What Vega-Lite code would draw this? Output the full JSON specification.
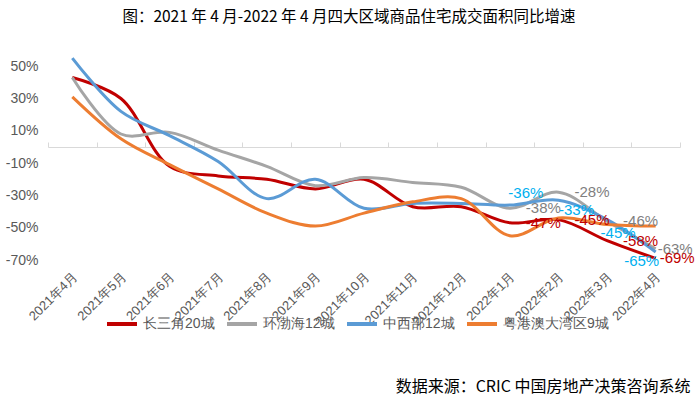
{
  "$schema": "https://vega.github.io/schema/vega-lite/v6.json",
  "autosize": "none",
  "width": 632,
  "height": 210,
  "padding": {"left": 48, "top": 50, "right": 20, "bottom": 159},
  "background": "white",
  "config": {"view": {"stroke": null}, "font": "Liberation Sans"},
  "title": {"text": "图：2021 年 4 月-2022 年 4 月四大区域商品住宅成交面积同比增速", "font": "Noto Sans CJK SC", "fontSize": 15.5, "fontWeight": "normal", "color": "#000000", "anchor": "middle", "dx": -15, "offset": 25},
  "data": {"values": [
    {"m": "2021年4月", "s": "长三角20城", "v": 43},
    {"m": "2021年5月", "s": "长三角20城", "v": 30},
    {"m": "2021年6月", "s": "长三角20城", "v": -12},
    {"m": "2021年7月", "s": "长三角20城", "v": -18},
    {"m": "2021年8月", "s": "长三角20城", "v": -20},
    {"m": "2021年9月", "s": "长三角20城", "v": -26},
    {"m": "2021年10月", "s": "长三角20城", "v": -20},
    {"m": "2021年11月", "s": "长三角20城", "v": -37},
    {"m": "2021年12月", "s": "长三角20城", "v": -37},
    {"m": "2022年1月", "s": "长三角20城", "v": -47},
    {"m": "2022年2月", "s": "长三角20城", "v": -45},
    {"m": "2022年3月", "s": "长三角20城", "v": -58},
    {"m": "2022年4月", "s": "长三角20城", "v": -69},
    {"m": "2021年4月", "s": "环渤海12城", "v": 43},
    {"m": "2021年5月", "s": "环渤海12城", "v": 8},
    {"m": "2021年6月", "s": "环渤海12城", "v": 9},
    {"m": "2021年7月", "s": "环渤海12城", "v": -2},
    {"m": "2021年8月", "s": "环渤海12城", "v": -12},
    {"m": "2021年9月", "s": "环渤海12城", "v": -24},
    {"m": "2021年10月", "s": "环渤海12城", "v": -19},
    {"m": "2021年11月", "s": "环渤海12城", "v": -22},
    {"m": "2021年12月", "s": "环渤海12城", "v": -25},
    {"m": "2022年1月", "s": "环渤海12城", "v": -38},
    {"m": "2022年2月", "s": "环渤海12城", "v": -28},
    {"m": "2022年3月", "s": "环渤海12城", "v": -46},
    {"m": "2022年4月", "s": "环渤海12城", "v": -63},
    {"m": "2021年4月", "s": "中西部12城", "v": 55},
    {"m": "2021年5月", "s": "中西部12城", "v": 22},
    {"m": "2021年6月", "s": "中西部12城", "v": 7},
    {"m": "2021年7月", "s": "中西部12城", "v": -9},
    {"m": "2021年8月", "s": "中西部12城", "v": -32},
    {"m": "2021年9月", "s": "中西部12城", "v": -20},
    {"m": "2021年10月", "s": "中西部12城", "v": -38},
    {"m": "2021年11月", "s": "中西部12城", "v": -35},
    {"m": "2021年12月", "s": "中西部12城", "v": -35},
    {"m": "2022年1月", "s": "中西部12城", "v": -36},
    {"m": "2022年2月", "s": "中西部12城", "v": -33},
    {"m": "2022年3月", "s": "中西部12城", "v": -45},
    {"m": "2022年4月", "s": "中西部12城", "v": -65},
    {"m": "2021年4月", "s": "粤港澳大湾区9城", "v": 31},
    {"m": "2021年5月", "s": "粤港澳大湾区9城", "v": 5},
    {"m": "2021年6月", "s": "粤港澳大湾区9城", "v": -11},
    {"m": "2021年7月", "s": "粤港澳大湾区9城", "v": -26},
    {"m": "2021年8月", "s": "粤港澳大湾区9城", "v": -41},
    {"m": "2021年9月", "s": "粤港澳大湾区9城", "v": -49},
    {"m": "2021年10月", "s": "粤港澳大湾区9城", "v": -41},
    {"m": "2021年11月", "s": "粤港澳大湾区9城", "v": -34},
    {"m": "2021年12月", "s": "粤港澳大湾区9城", "v": -32},
    {"m": "2022年1月", "s": "粤港澳大湾区9城", "v": -55},
    {"m": "2022年2月", "s": "粤港澳大湾区9城", "v": -44},
    {"m": "2022年3月", "s": "粤港澳大湾区9城", "v": -48},
    {"m": "2022年4月", "s": "粤港澳大湾区9城", "v": -49}
  ]},
  "transform": [{"calculate": "datum.v + '%'", "as": "lab"}],
  "encoding": {
    "y": {"field": "v", "type": "quantitative", "scale": {"domain": [-70, 60], "nice": false, "zero": false},
      "axis": {"values": [-70, -50, -30, -10, 10, 30, 50], "labelExpr": "datum.value + '%'", "domain": false, "ticks": false, "grid": false, "labelFontSize": 14, "labelColor": "#595959", "labelPadding": 10, "title": null}}
  },
  "resolve": {"axis": {"x": "independent"}},
  "layer": [
    {
      "mark": {"type": "line", "interpolate": "catmull-rom", "strokeWidth": 3},
      "encoding": {
        "x": {"field": "m", "type": "nominal", "sort": null, "bandPosition": 0.5, "scale": {"type": "band", "paddingInner": 0, "paddingOuter": 0},
          "axis": {"orient": "bottom", "domain": false, "ticks": false, "labelAngle": -45, "labelAlign": "right", "labelBaseline": "middle", "labelFontSize": 13, "labelColor": "#595959", "labelPadding": 14, "labelOffset": 3,
            "title": "数据来源：CRIC 中国房地产决策咨询系统", "titleFont": "Noto Sans CJK SC", "titleFontSize": 16, "titleFontWeight": "normal", "titleColor": "#000000", "titleAnchor": "end", "titleAlign": "right", "titleBaseline": "alphabetic", "titleX": 642, "titleY": 131}},
        "color": {"field": "s", "type": "nominal", "sort": null,
          "scale": {"domain": ["长三角20城", "环渤海12城", "中西部12城", "粤港澳大湾区9城"], "range": ["#C00000", "#A5A5A5", "#5B9BD5", "#ED7D31"]},
          "legend": {"title": null, "orient": "none", "direction": "horizontal", "legendX": 57, "legendY": 257, "symbolType": "stroke", "symbolStrokeWidth": 4, "symbolSize": 900, "labelFontSize": 14, "labelColor": "#595959", "labelOffset": 4, "columnPadding": 4}}
      }
    },
    {
      "transform": [{"filter": "datum.s == '环渤海12城' && (datum.m == '2022年1月' || datum.m == '2022年2月' || datum.m == '2022年3月')"}],
      "mark": {"type": "text", "align": "left", "baseline": "middle", "dx": 16, "fontSize": 15, "color": "#7F7F7F"},
      "encoding": {
        "x": {"field": "m", "type": "nominal", "sort": null, "bandPosition": 0.5, "scale": {"type": "band", "paddingInner": 0, "paddingOuter": 0},
          "axis": {"orient": "top", "offset": -97, "labels": false, "domain": true, "domainColor": "#D9D9D9", "domainWidth": 1, "ticks": true, "tickColor": "#D9D9D9", "tickSize": 5, "tickBand": "extent", "grid": false, "title": null}},
        "text": {"field": "lab"}
      }
    },
    {
      "transform": [{"filter": "datum.s == '长三角20城' && (datum.m == '2022年1月' || datum.m == '2022年2月' || datum.m == '2022年3月')"}],
      "mark": {"type": "text", "align": "left", "baseline": "middle", "dx": 16, "fontSize": 15, "color": "#C00000"},
      "encoding": {
        "x": {"field": "m", "type": "nominal", "sort": null, "bandPosition": 0.5, "scale": {"type": "band", "paddingInner": 0, "paddingOuter": 0}, "axis": null},
        "text": {"field": "lab"}
      }
    },
    {
      "transform": [{"filter": "datum.s == '环渤海12城' && datum.m == '2022年4月'"}],
      "mark": {"type": "text", "align": "left", "baseline": "middle", "dx": 2, "fontSize": 15, "color": "#7F7F7F"},
      "encoding": {
        "x": {"field": "m", "type": "nominal", "sort": null, "bandPosition": 0.5, "scale": {"type": "band", "paddingInner": 0, "paddingOuter": 0}, "axis": null},
        "text": {"field": "lab"}
      }
    },
    {
      "transform": [{"filter": "datum.s == '长三角20城' && datum.m == '2022年4月'"}],
      "mark": {"type": "text", "align": "left", "baseline": "middle", "dx": 4, "fontSize": 15, "color": "#C00000"},
      "encoding": {
        "x": {"field": "m", "type": "nominal", "sort": null, "bandPosition": 0.5, "scale": {"type": "band", "paddingInner": 0, "paddingOuter": 0}, "axis": null},
        "text": {"field": "lab"}
      }
    },
    {
      "transform": [{"filter": "datum.s == '中西部12城' && datum.m == '2022年1月'"}],
      "mark": {"type": "text", "align": "center", "baseline": "middle", "dx": 16, "dy": -12, "fontSize": 15, "color": "#00B0F0"},
      "encoding": {
        "x": {"field": "m", "type": "nominal", "sort": null, "bandPosition": 0.5, "scale": {"type": "band", "paddingInner": 0, "paddingOuter": 0}, "axis": null},
        "text": {"field": "lab"}
      }
    },
    {
      "transform": [{"filter": "datum.s == '中西部12城' && datum.m == '2022年2月'"}],
      "mark": {"type": "text", "align": "center", "baseline": "middle", "dx": 18, "dy": 10, "fontSize": 15, "color": "#00B0F0"},
      "encoding": {
        "x": {"field": "m", "type": "nominal", "sort": null, "bandPosition": 0.5, "scale": {"type": "band", "paddingInner": 0, "paddingOuter": 0}, "axis": null},
        "text": {"field": "lab"}
      }
    },
    {
      "transform": [{"filter": "datum.s == '中西部12城' && datum.m == '2022年3月'"}],
      "mark": {"type": "text", "align": "center", "baseline": "middle", "dx": 11, "dy": 13, "fontSize": 15, "color": "#00B0F0"},
      "encoding": {
        "x": {"field": "m", "type": "nominal", "sort": null, "bandPosition": 0.5, "scale": {"type": "band", "paddingInner": 0, "paddingOuter": 0}, "axis": null},
        "text": {"field": "lab"}
      }
    },
    {
      "transform": [{"filter": "datum.s == '中西部12城' && datum.m == '2022年4月'"}],
      "mark": {"type": "text", "align": "center", "baseline": "middle", "dx": -14, "dy": 9, "fontSize": 15, "color": "#00B0F0"},
      "encoding": {
        "x": {"field": "m", "type": "nominal", "sort": null, "bandPosition": 0.5, "scale": {"type": "band", "paddingInner": 0, "paddingOuter": 0}, "axis": null},
        "text": {"field": "lab"}
      }
    }
  ]
}
